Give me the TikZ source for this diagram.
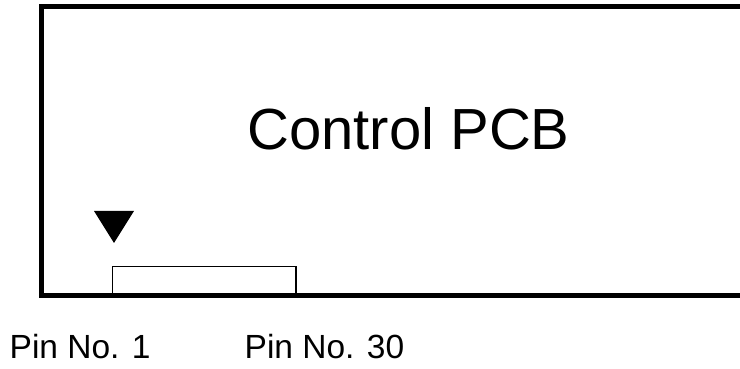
\documentclass[tikz,border=0pt]{standalone}
\usepackage{fontspec}
\setmainfont{Liberation Sans}
\usepackage{tikz}
\tikzstyle{scheda} = [line width=5pt,draw=black]
\tikzstyle{connettore} = [line width=1.2pt,draw=black,fill=white]
\tikzstyle{marcatore} = [fill=black]
\tikzstyle{titolo} = [font=\fontsize{58}{60}\selectfont,anchor=base,inner sep=0pt]
\tikzstyle{etichetta} = [font=\fontsize{33.5}{36}\selectfont,anchor=base west,inner sep=0pt]

\begin{document}
\begin{tikzpicture}[x=1pt,y=1pt]
\useasboundingbox (0,0) rectangle (740,369);
\clip (0,0) rectangle (740,369);

\coordinate (B_NO) at (41.5,362.5);
\coordinate (B_SO) at (41.5,73.5);
\coordinate (B_NE) at (780,362.5);
\coordinate (B_SE) at (780,73.5);

\coordinate (C_SO) at (112.5,73.5);
\coordinate (C_NE) at (296,102.5);

\coordinate (pin1) at (114,126); % punta del triangolo

\draw[connettore] (C_SO) rectangle (C_NE);
\draw[scheda] (B_NE) -- (B_NO) -- (B_SO) -- (B_SE);

\fill[marcatore] (pin1) -- ++(-20,32) -- ++(40,0) -- cycle;

\node (pcb) [titolo] at (408.5,219) {Control PCB};

\node (p1)  [etichetta] at (9.5,10) {Pin No. 1};
\node (p30) [etichetta] at (244.5,10) {Pin No. 30};
\end{tikzpicture}
\end{document}
